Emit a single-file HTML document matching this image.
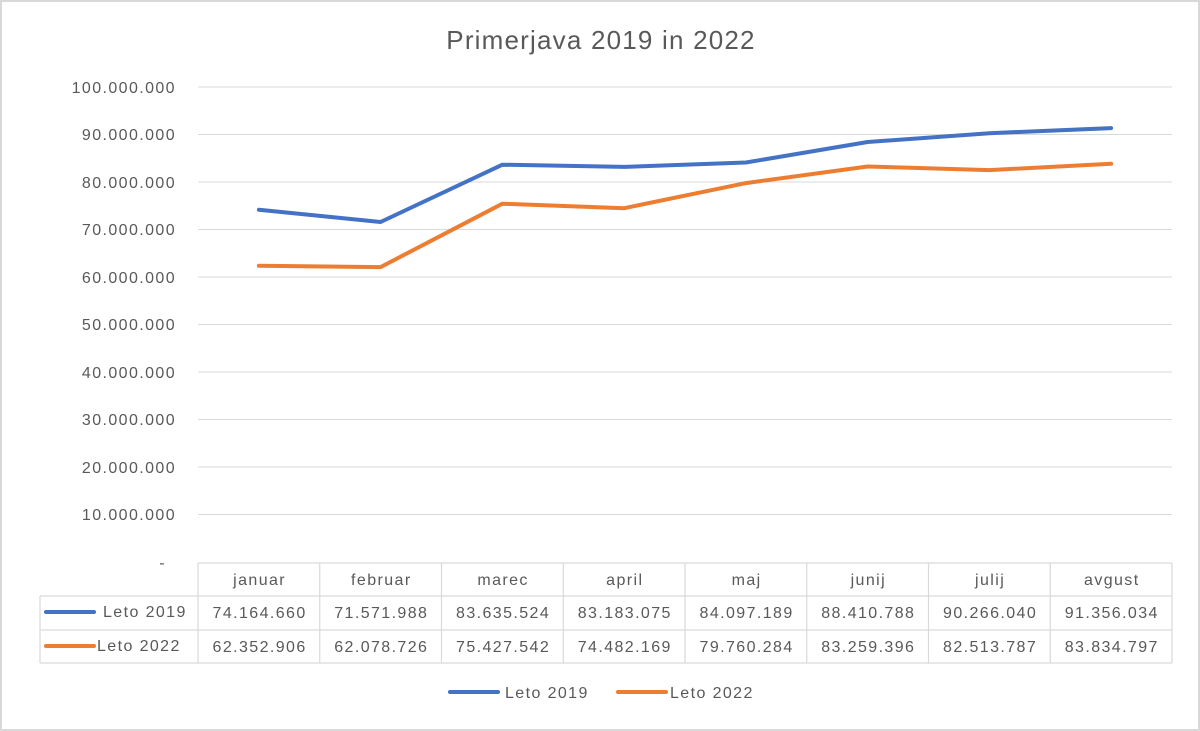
<!DOCTYPE html>
<html><head><style>
html,body{margin:0;padding:0;background:#fff}
svg{display:block}
text{font-family:"Liberation Sans",sans-serif;fill:#595959;letter-spacing:1.4px}
</style></head><body>
<svg width="1200" height="731" viewBox="0 0 1200 731" xmlns="http://www.w3.org/2000/svg">
<rect x="1" y="1" width="1198" height="729" fill="#fff" stroke="#d9d9d9" stroke-width="2"/>
<text x="601" y="49" font-size="26" text-anchor="middle" style="letter-spacing:1.2px">Primerjava 2019 in 2022</text>
<g stroke="#d9d9d9" stroke-width="1">
<line x1="198" x2="1172" y1="87" y2="87"/>
<line x1="198" x2="1172" y1="134.5" y2="134.5"/>
<line x1="198" x2="1172" y1="182" y2="182"/>
<line x1="198" x2="1172" y1="229.5" y2="229.5"/>
<line x1="198" x2="1172" y1="277" y2="277"/>
<line x1="198" x2="1172" y1="324.5" y2="324.5"/>
<line x1="198" x2="1172" y1="372" y2="372"/>
<line x1="198" x2="1172" y1="419.5" y2="419.5"/>
<line x1="198" x2="1172" y1="467" y2="467"/>
<line x1="198" x2="1172" y1="514.5" y2="514.5"/>
</g>
<g font-size="16" text-anchor="end">
<text x="176" y="93">100.000.000</text>
<text x="176" y="140">90.000.000</text>
<text x="176" y="188">80.000.000</text>
<text x="176" y="235">70.000.000</text>
<text x="176" y="283">60.000.000</text>
<text x="176" y="330">50.000.000</text>
<text x="176" y="378">40.000.000</text>
<text x="176" y="425">30.000.000</text>
<text x="176" y="473">20.000.000</text>
<text x="176" y="520">10.000.000</text>
<text x="166" y="568">-</text>
</g>
<polyline fill="none" stroke="#4472c4" stroke-width="4" stroke-linejoin="round" stroke-linecap="round" points="258.9,209.7 380.6,222 502.4,164.7 624.1,166.9 745.9,162.5 867.6,142 989.4,133.2 1111.1,128.1"/>
<polyline fill="none" stroke="#ed7d31" stroke-width="4" stroke-linejoin="round" stroke-linecap="round" points="258.9,265.8 380.6,267.1 502.4,203.7 624.1,208.2 745.9,183.1 867.6,166.5 989.4,170.1 1111.1,163.8"/>
<g stroke="#d9d9d9" stroke-width="1.2" fill="none">
<line x1="198" x2="1172" y1="563" y2="563"/>
<line x1="40" x2="1172" y1="596" y2="596"/>
<line x1="40" x2="1172" y1="630" y2="630"/>
<line x1="40" x2="1172" y1="663" y2="663"/>
<line x1="40" x2="40" y1="596" y2="663"/>
<line x1="198" x2="198" y1="563" y2="663"/>
<line x1="319.75" x2="319.75" y1="563" y2="663"/>
<line x1="441.5" x2="441.5" y1="563" y2="663"/>
<line x1="563.25" x2="563.25" y1="563" y2="663"/>
<line x1="685" x2="685" y1="563" y2="663"/>
<line x1="806.75" x2="806.75" y1="563" y2="663"/>
<line x1="928.5" x2="928.5" y1="563" y2="663"/>
<line x1="1050.25" x2="1050.25" y1="563" y2="663"/>
<line x1="1172" x2="1172" y1="563" y2="663"/>
</g>
<g font-size="16" text-anchor="middle">
<text x="259.6" y="585">januar</text><text x="381.3" y="585">februar</text><text x="503.1" y="585">marec</text><text x="624.8" y="585">april</text><text x="746.6" y="585">maj</text><text x="868.3" y="585">junij</text><text x="990.1" y="585">julij</text><text x="1111.8" y="585">avgust</text>
<text x="259.6" y="618">74.164.660</text><text x="381.3" y="618">71.571.988</text><text x="503.1" y="618">83.635.524</text><text x="624.8" y="618">83.183.075</text><text x="746.6" y="618">84.097.189</text><text x="868.3" y="618">88.410.788</text><text x="990.1" y="618">90.266.040</text><text x="1111.8" y="618">91.356.034</text>
<text x="259.6" y="652">62.352.906</text><text x="381.3" y="652">62.078.726</text><text x="503.1" y="652">75.427.542</text><text x="624.8" y="652">74.482.169</text><text x="746.6" y="652">79.760.284</text><text x="868.3" y="652">83.259.396</text><text x="990.1" y="652">82.513.787</text><text x="1111.8" y="652">83.834.797</text>
</g>
<line x1="46" x2="94" y1="612" y2="612" stroke="#4472c4" stroke-width="4" stroke-linecap="round"/>
<text x="103" y="617" font-size="16">Leto 2019</text>
<line x1="46" x2="94" y1="646" y2="646" stroke="#ed7d31" stroke-width="4" stroke-linecap="round"/>
<text x="97" y="651" font-size="16">Leto 2022</text>
<line x1="450" x2="498" y1="692" y2="692" stroke="#4472c4" stroke-width="4" stroke-linecap="round"/>
<text x="505" y="698" font-size="16">Leto 2019</text>
<line x1="618" x2="666" y1="692" y2="692" stroke="#ed7d31" stroke-width="4" stroke-linecap="round"/>
<text x="670" y="698" font-size="16">Leto 2022</text>
</svg>
</body></html>
